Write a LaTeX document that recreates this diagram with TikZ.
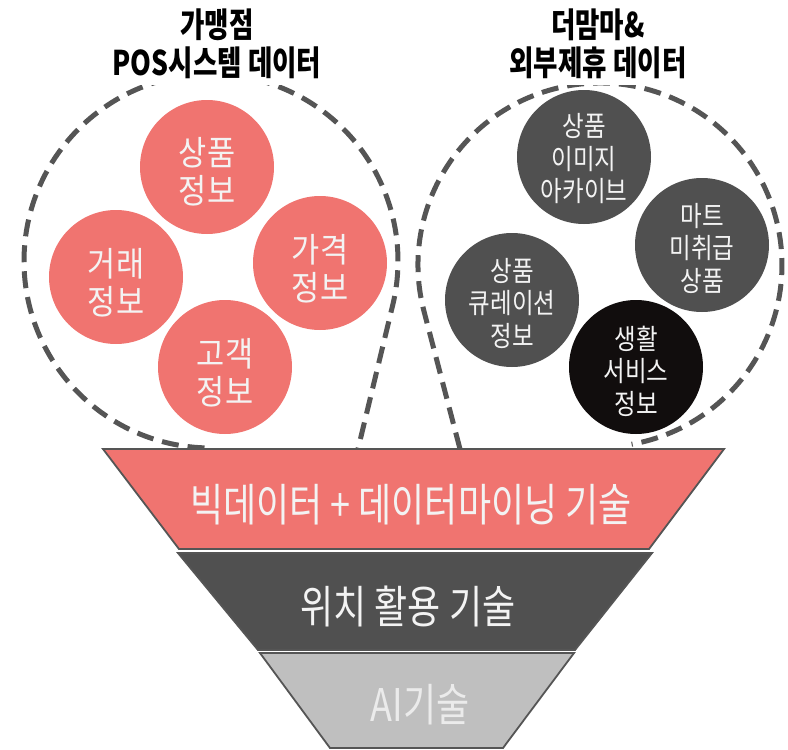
\documentclass[tikz,border=0pt]{standalone}
\usepackage{fontspec}
\setmainfont{Noto Sans CJK KR}
\newfontfamily\ttlfont[FakeStretch=0.78]{Noto Sans CJK KR}
\newfontfamily\lcfont[FakeStretch=0.9]{Noto Sans CJK KR}
\newfontfamily\dcfont[FakeStretch=0.84]{Noto Sans CJK KR}
\newfontfamily\fnfont[FakeStretch=0.8]{Noto Sans CJK KR}
\definecolor{salmon}{HTML}{F07470}
\definecolor{dgray}{HTML}{555555}
\definecolor{cgray}{HTML}{505050}
\definecolor{nblack}{HTML}{110D0D}
\definecolor{lgray}{HTML}{BFBFBF}
\definecolor{wtext}{HTML}{F3F3F3}
\tikzset{
  dashline/.style={draw=dgray, line width=5pt, dash pattern=on 17pt off 9pt},
  lcirc/.style={circle, fill=salmon, minimum size=134pt, inner sep=0pt},
  dcirc/.style={circle, fill=cgray, minimum size=134pt, inner sep=0pt},
  bcirc/.style={circle, fill=nblack, minimum size=134pt, inner sep=0pt},
  ltxt/.style={text=wtext, align=center, font=\lcfont\fontsize{34}{38}\selectfont},
  dtxt/.style={text=wtext, align=center, font=\dcfont\fontsize{28}{32.5}\selectfont},
  ttl/.style={fill=white, text=black, align=center, inner xsep=2pt, inner ysep=6pt,
              font=\ttlfont\bfseries\fontsize{34}{38.5}\selectfont},
  band/.style={draw=dgray, line width=1.8pt, line join=miter},
  ftxt/.style={text=wtext, font=\fnfont\fontsize{45}{48}\selectfont},
}
\begin{document}
\begin{tikzpicture}[x=1pt, y=-1pt]
\useasboundingbox (0,0) rectangle (788,750);

% dashed outlines
\draw[dashline] ([shift={(211,261)}]92:187) arc[start angle=92, end angle=373.6, radius=187] -- (358,449);
\draw[dashline] (460,449) -- ([shift={(600,265)}]165.2:182) arc[start angle=165.2, end angle=440, radius=182];

% titles
\node[ttl] (title1) at (217,44) {가맹점\\POS시스템 데이터};
\node[ttl] (title2) at (598,44) {더맘마\&\\외부제휴 데이터};

% left circles
\node[lcirc] (l1) at (207,167) {};
\node[lcirc] (l2) at (116,277) {};
\node[lcirc] (l3) at (320,263) {};
\node[lcirc] (l4) at (225,367) {};
\node[ltxt] (lt1) at (207,172) {상품\\정보};
\node[ltxt] (lt2) at (116,283) {거래\\정보};
\node[ltxt] (lt3) at (320,269) {가격\\정보};
\node[ltxt] (lt4) at (225,373) {고객\\정보};

% right circles
\node[dcirc] (r1) at (584,157) {};
\node[dcirc] (r2) at (702,245) {};
\node[dcirc] (r3) at (512,300) {};
\node[bcirc] (r4) at (636,367) {};
\node[dtxt] (rt1) at (584,159) {상품\\이미지\\아카이브};
\node[dtxt] (rt2) at (702,248) {마트\\미취급\\상품};
\node[dtxt] (rt3) at (512,303) {상품\\큐레이션\\정보};
\node[dtxt] (rt4) at (636,371) {생활\\서비스\\정보};

% funnel
\path[band, fill=salmon] (103,449) -- (724,449) -- (649,549) -- (179,549) -- cycle;
\path[band, fill=cgray] (178,553) -- (652,553) -- (575,650) -- (258,650) -- cycle;
\path[band, fill=lgray] (260,653) -- (574,653) -- (503,748) -- (330,748) -- cycle;
\node[ftxt] (f1) at (411,505) {빅데이터 + 데이터마이닝 기술};
\node[ftxt] (f2) at (408,606) {위치 활용 기술};
\node[ftxt, text=white!92!black] (f3) at (420,705) {AI기술};
\end{tikzpicture}
\end{document}
